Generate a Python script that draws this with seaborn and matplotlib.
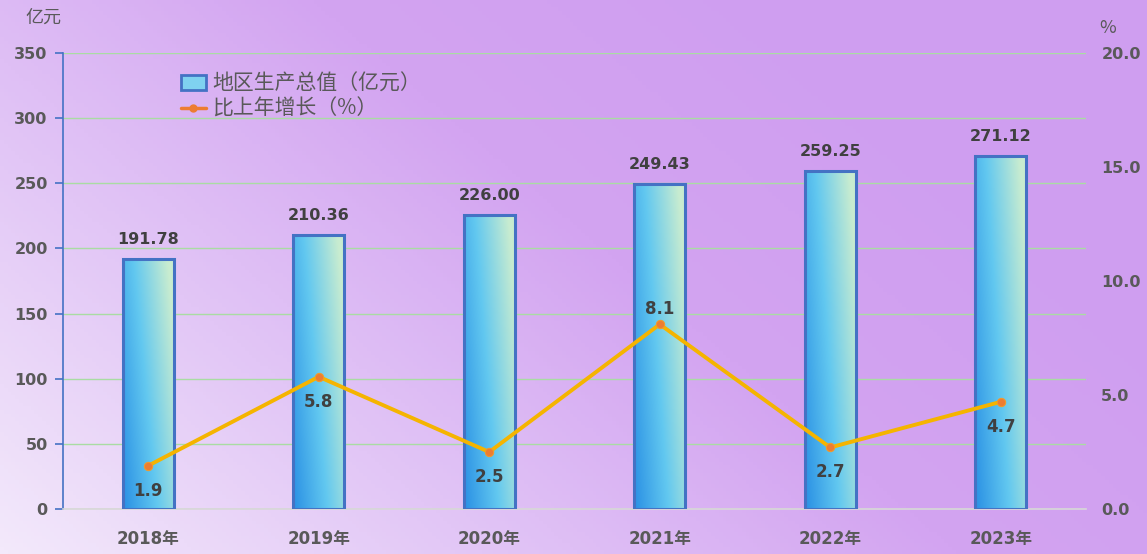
"""GDP bar + growth line chart (地区生产总值与增长率)."""
import numpy as np
import pandas as pd
import matplotlib
matplotlib.use("Agg")
import matplotlib.pyplot as plt
from matplotlib.colors import LinearSegmentedColormap
from matplotlib.lines import Line2D
from matplotlib.patches import Patch
import seaborn as sns

years = ["2018年", "2019年", "2020年", "2021年", "2022年", "2023年"]
gdp = [191.78, 210.36, 226.00, 249.43, 259.25, 271.12]
growth = [1.9, 5.8, 2.5, 8.1, 2.7, 4.7]
growth_label_above = [False, False, False, True, False, False]

sns.set_theme(style="white")
# DejaVu for digits (wide, like the original), Noto CJK for Chinese glyphs
plt.rcParams["font.family"] = ["DejaVu Sans", "Noto Sans CJK SC"]
CJK = ["Noto Sans CJK SC", "DejaVu Sans"]

TEXT = "#404040"
TICK = "#595959"
EDGE = "#4472c4"
GRID = "#a9dca3"

df = pd.DataFrame({"year": years, "gdp": gdp, "growth": growth})

fig = plt.figure(figsize=(11.47, 5.54), dpi=100)

# background gradient over the whole figure
bg = fig.add_axes([0, 0, 1, 1], zorder=-10)
bg_cmap = LinearSegmentedColormap.from_list("bg", ["#f3e9fb", "#e2c6f6", "#d3a4f1", "#cf9ef0"])
xx, yy = np.meshgrid(np.linspace(0, 1, 300), np.linspace(0, 1, 150))
bg.imshow(np.clip(0.8 * xx + 0.45 * yy, 0, 1), cmap=bg_cmap, origin="lower",
          aspect="auto", extent=[0, 1, 0, 1])
bg.axis("off")

ax = fig.add_axes([63 / 1147, 45 / 554, 1023 / 1147, 456 / 554])
ax.set_facecolor("none")

sns.barplot(data=df, x="year", y="gdp", ax=ax, width=0.3, color="#5bc0ee",
            edgecolor=EDGE, linewidth=2.2, zorder=3)

# gradient fill for bars
bar_cmap = LinearSegmentedColormap.from_list("bar", ["#2a90e4", "#62c8f0", "#c8ecd0"])
for patch in ax.patches:
    x0, y0 = patch.get_x(), patch.get_y()
    w, h = patch.get_width(), patch.get_height()
    gx, gy = np.meshgrid(np.linspace(0, 1, 60), np.linspace(0, 1, 120))
    grad = np.clip(0.75 * gx + 0.35 * gy, 0, 1)
    im = ax.imshow(grad, cmap=bar_cmap, origin="lower", aspect="auto",
                   extent=[x0, x0 + w, y0, y0 + h], zorder=3.5)
    im.set_clip_path(patch)
    patch.set_facecolor("none")
    patch.set_zorder(4)
    ax.annotate(f"{gdp[int(round(x0 + w / 2))]:.2f}", (x0 + w / 2, y0 + h),
                xytext=(0, 14), textcoords="offset points", ha="center",
                va="center", fontsize=11.5, fontweight="bold", color=TEXT, zorder=6)

ax.set_xlim(-0.5, 5.5)
ax.set_ylim(0, 350)
ax.set_yticks(range(0, 351, 50))
ax.set_xlabel("")
ax.set_ylabel("")
ax.grid(axis="y", color=GRID, linewidth=1, zorder=0)
ax.set_axisbelow(True)
for s in ["top", "right"]:
    ax.spines[s].set_visible(False)
ax.spines["left"].set_color(EDGE)
ax.spines["left"].set_linewidth(1.2)
ax.spines["bottom"].set_color("#d8d8d8")
ax.spines["bottom"].set_linewidth(1.2)
ax.tick_params(axis="y", left=True, length=6, width=1.2, color=EDGE,
               labelsize=11.5, labelcolor=TICK, pad=5)
ax.tick_params(axis="x", bottom=False, labelsize=12, labelcolor=TICK, pad=9)
for lab in ax.get_yticklabels() + ax.get_xticklabels():
    lab.set_fontweight("bold")

ax2 = ax.twinx()
ax2.set_facecolor("none")
sns.lineplot(x=np.arange(len(growth)), y=growth, ax=ax2, color="#f5b400",
             linewidth=2.8, zorder=5, marker="o", markersize=6,
             markerfacecolor="#ed7d31", markeredgecolor="#f39a2a")
ax2.set_ylim(0, 20)
ax2.set_yticks(np.arange(0, 20.1, 5))
ax2.set_yticklabels([f"{v:.1f}" for v in np.arange(0, 20.1, 5)])
ax2.set_xlim(-0.5, 5.5)
for s in ax2.spines.values():
    s.set_visible(False)
ax2.tick_params(axis="y", right=False, labelsize=11.5, labelcolor=TICK, pad=5)
for lab in ax2.get_yticklabels():
    lab.set_fontweight("bold")
ax2.grid(False)

for i, (v, above) in enumerate(zip(growth, growth_label_above)):
    ax2.annotate(f"{v:.1f}", (i, v), xytext=(0, 11 if above else -18),
                 textcoords="offset points", ha="center", va="center",
                 fontsize=12, fontweight="bold", color=TEXT, zorder=7)

handles = [Patch(facecolor="#7fd2f0", edgecolor=EDGE, linewidth=2),
           Line2D([], [], color="#ed7d31", linewidth=2.5, marker="o", markersize=5)]
leg = ax.legend(handles, ["地区生产总值（亿元）", "比上年增长（%）"],
                loc="upper left", bbox_to_anchor=(0.107, 0.975), frameon=False,
                prop={"family": CJK, "size": 15}, handlelength=1.2,
                handletextpad=0.3, labelspacing=0.15, borderaxespad=0)
for t in leg.get_texts():
    t.set_color(TICK)

fig.text(43 / 1147, 1 - 18 / 554, "亿元", ha="center", va="center",
         fontsize=13, color=TICK, family=CJK)
fig.text(1108 / 1147, 1 - 28 / 554, "%", ha="center", va="center",
         fontsize=13, color=TICK, family=CJK)

fig.savefig("out.png", dpi=100)
